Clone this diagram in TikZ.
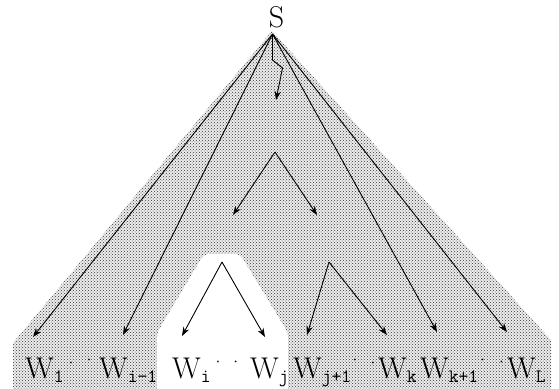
\documentclass[tikz,border=0pt]{standalone}
\usepackage{fontspec}
\usetikzlibrary{arrows.meta,patterns}
\newcommand\Wlab[1]{{\fontsize{30}{30}\selectfont W}\raisebox{-4pt}{\fontsize{19}{19}\selectfont\ttfamily #1}}
\begin{document}
\begin{tikzpicture}[x=1pt,y=-1pt,
  arr/.style={-{Stealth[length=9pt,width=6.5pt]}, line width=0.9pt},
  lab/.style={anchor=base west, inner sep=0pt},
  dotlab/.style={anchor=base, inner sep=0pt, font=\fontsize{22}{22}\selectfont}]
\useasboundingbox (0,0) rectangle (559,388);
% shaded region
\fill[black!7]
  (272,31) -- (551,340) -- (551,392) -- (13,392) -- (13,343) -- cycle;
\fill[pattern=crosshatch dots, pattern color=black!80]
  (272,31) -- (551,340) -- (551,392) -- (13,392) -- (13,343) -- cycle;
\fill[white, rounded corners=5pt]
  (157,394) -- (157,333) -- (204,254) -- (240,254) -- (288,333) -- (288,394) -- cycle;
% root label
\node[inner sep=0pt, font=\fontsize{30}{30}\selectfont] (S) at (276.5,17.5) {S};
\coordinate (root) at (272.5,34);
% targets
\coordinate (t1) at (33,337);
\coordinate (t2) at (123,335);
\coordinate (t3) at (437,332);
\coordinate (t4) at (507,332);
\coordinate (zz) at (276,100);
\coordinate (a1) at (275,152);
\coordinate (m1) at (233,215);
\coordinate (m2) at (317,215);
\coordinate (a2) at (222,262);
\coordinate (l1) at (182,336);
\coordinate (l2) at (265,337);
\coordinate (a3) at (329,262);
\coordinate (r1) at (307,335);
\coordinate (r2) at (387,335);
% arrows
\draw[arr] (root) -- (t1);
\draw[arr] (root) -- (t2);
\draw[arr] (root) -- (t3);
\draw[arr] (root) -- (t4);
\draw[arr] (root) -- ++(0,26) -- ++(10,8) -- (zz);
\draw[arr] (a1) -- (m1);
\draw[arr] (a1) -- (m2);
\draw[arr] (a2) -- (l1);
\draw[arr] (a2) -- (l2);
\draw[arr] (a3) -- (r1);
\draw[arr] (a3) -- (r2);
% leaf labels
\node[lab] (w1) at (25,378) {\Wlab{1}};
\node[dotlab] (d1) at (80,370) {·\hspace{2pt}\raisebox{3pt}{·}};
\node[lab] (w2) at (99,378) {\Wlab{i−1}};
\node[lab] (w3) at (172,378) {\Wlab{i}};
\node[dotlab] (d2) at (227,369) {·\hspace{2pt}·};
\node[lab] (w4) at (250,378) {\Wlab{j}};
\node[lab] (w5) at (293,378) {\Wlab{j+1}};
\node[dotlab] (d3) at (364,370) {\raisebox{3pt}{·}\hspace{2pt}·};
\node[lab] (w6) at (378,378) {\Wlab{k}};
\node[lab] (w7) at (420,378) {\Wlab{k+1}};
\node[dotlab] (d4) at (492,369) {\raisebox{2pt}{·}\hspace{3pt}·};
\node[lab] (w8) at (507,378) {\Wlab{L}};
\end{tikzpicture}
\end{document}
